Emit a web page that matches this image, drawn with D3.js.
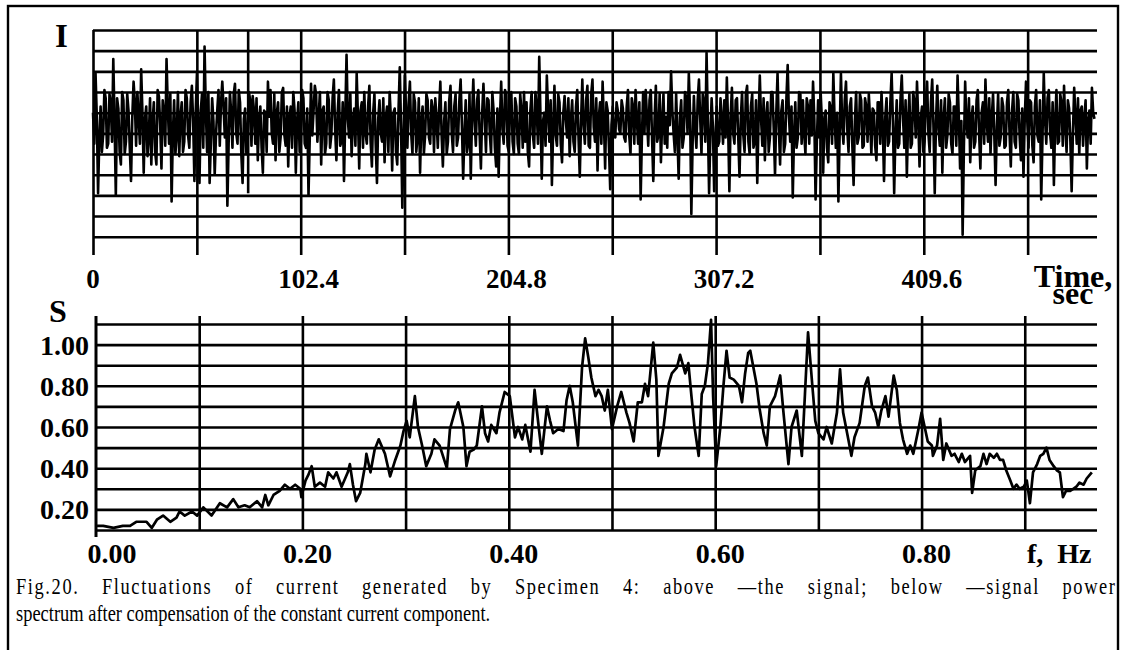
<!DOCTYPE html>
<html>
<head>
<meta charset="utf-8">
<script src="https://cdn.jsdelivr.net/npm/d3@7"></script>
<style>
  html, body { margin: 0; padding: 0; background: #fff; }
  svg { display: block; }
</style>
</head>
<body>
<script>
// ---- current signal: one reading every 0.625 s, in grid divisions (0 = middle line) ----
const signalStep = 0.625;
const signalValues = [
  1.0, -0.5, 2.9, 0.8, -2.9, -0.2, 1.3, -0.9, -0.1, 2.1, 1.7, -0.7, -0.5, 1.9, 1.5, -0.4, 3.6, 0.6, -3.0, 1.7,
  1.2, -0.9, -1.5, 2.0, 1.6, -1.0, -0.4, 1.9, 1.1, -0.7, -2.3, 0.8, 2.5, 1.5, -0.6, 2.0, 0.8, -0.5, 3.1, 1.0,
  -1.9, 0.7, 1.3, -1.1, -0.2, 1.7, -1.5, 0.6, 1.5, -0.9, -1.5, 2.1, 1.8, 0.4, -1.7, 1.6, 1.0, -0.6, 3.6, 1.3,
  -0.5, 1.9, -3.3, 0.0, 1.6, -1.0, -0.1, 2.0, -1.1, 0.8, 1.5, -0.9, -0.4, 2.1, 1.7, -0.1, -0.7, 1.5, 2.3, 0.6,
  -2.3, 1.0, 2.9, 0.4, -2.4, 1.1, 1.9, -0.7, 4.2, 1.1, -0.9, 2.0, -2.4, -0.4, 1.7, 0.6, -2.0, -0.1, 1.1, 2.1,
  -0.6, 1.5, 2.5, 1.3, -0.2, 1.7, -3.5, -0.5, 2.0, 1.0, -0.7, 1.9, 2.4, 0.0, -0.5, 2.1, 1.5, -1.0, -2.4, 0.7,
  1.2, -1.0, -0.4, 2.0, 1.6, -0.6, 1.8, 1.1, -0.5, 1.7, -1.3, 0.7, 1.3, -0.7, -1.9, 1.1, 1.0, -0.9, 2.5, 0.8,
  2.1, 0.0, -0.5, 1.9, -1.3, 1.0, 1.5, -0.9, -0.2, 2.0, 2.2, -0.1, -0.6, 1.3, -1.6, 0.8, 1.3, -0.7, 2.0, 1.1,
  -1.9, 0.6, 1.5, -0.9, -0.4, 2.1, 1.7, -0.5, -0.7, 1.2, -3.0, -0.2, 2.4, -0.1, 1.1, 2.3, 1.9, -0.4, 0.8, 2.0,
  -1.5, 1.1, 1.3, -1.0, -0.5, 2.0, 1.6, -0.7, -0.1, 1.7, 2.6, 0.2, -1.3, 1.0, 2.1, -0.6, -0.4, 1.5, -2.3, 0.8,
  3.8, 0.7, -0.2, 1.9, -1.1, 0.6, 1.2, -0.6, 2.9, 0.8, -1.7, 1.1, 1.5, -0.7, 2.0, 0.0, -0.5, 1.3, 2.3, -0.4,
  -1.6, 1.0, 1.9, -0.5, -2.4, 0.7, 1.6, 0.0, -0.4, 1.7, -1.4, 0.8, 1.3, -0.9, 2.0, 0.7, -1.8, 1.0, 1.2, -0.9,
  -1.5, 1.1, 3.2, 0.3, -3.6, -0.1, 2.8, 1.0, -0.7, 1.5, 2.5, 0.0, -1.0, 1.9, 1.5, -0.9, -0.2, 1.7, -1.9, 0.6,
  1.3, -1.0, -0.1, 1.9, 1.6, -0.2, -0.5, 1.6, 1.2, -0.9, 1.7, 0.7, -0.7, 1.1, 2.5, -0.1, -1.6, 0.6, 1.5, -1.0,
  -0.4, 1.6, 2.3, 0.0, -0.9, 1.3, 1.9, -0.6, -0.2, 1.6, 2.6, 0.4, -2.2, 0.0, 1.6, -0.9, -0.5, 1.9, -2.2, 0.8,
  2.6, 0.6, -0.6, 1.6, 2.1, -0.1, -1.7, 1.0, 2.4, 0.7, -0.9, 1.7, 1.6, 0.0, -1.0, 2.0, 1.1, -0.7, -1.6, 1.2,
  -2.1, 0.7, 2.5, 0.2, -0.5, 2.1, 1.9, -0.6, -0.9, 1.5, 2.0, -0.4, -1.0, 1.7, 1.3, -0.5, -1.0, 1.9, 1.1, -0.7,
  2.0, -0.4, 1.5, -0.9, -1.6, 1.1, 2.0, -0.1, -0.7, 2.0, 1.2, -0.5, 3.7, 0.8, -2.2, 0.6, 1.0, -0.6, 2.8, 1.1,
  -0.4, 1.6, -2.5, 0.2, 2.3, -0.1, -0.6, 1.9, 1.5, -0.5, -1.4, 1.0, 1.8, 0.6, -0.2, 1.7, -1.1, 0.7, 1.6, -0.4,
  -0.9, 1.3, 2.1, -0.2, -2.1, 0.6, 2.6, 0.4, -0.5, 1.6, 2.3, -0.6, -0.7, 1.9, 2.6, 0.3, -0.4, 1.7, -1.8, 0.8,
  1.5, -0.5, 2.5, 0.6, -1.7, 1.5, 1.1, -0.7, -2.7, 0.4, 1.3, -0.1, -0.2, 1.5, 1.1, 0.2, 0.0, 1.6, 1.2, -0.2,
  -0.4, 1.3, 2.1, -0.1, -1.0, 1.7, 1.3, -0.5, 2.1, 0.7, -0.5, 1.5, -3.2, -0.2, 2.0, 0.0, 2.1, 0.8, -0.6, 1.6,
  2.1, -0.2, -2.3, 0.7, 2.3, -0.4, -0.1, 1.9, -1.4, 0.6, 1.9, -0.5, 0.8, -0.7, 2.0, 0.4, 3.0, 1.1, 0.0, -0.9,
  1.9, -0.1, -2.2, 0.8, 1.6, -0.7, -0.2, 2.0, 1.7, 0.0, 2.9, 1.0, -3.9, -0.5, 1.8, 0.2, -0.7, 1.6, 2.6, 0.7,
  -1.0, 1.9, 1.5, -0.4, 3.9, 0.6, -2.9, -0.1, 1.7, 0.3, -2.8, -0.2, 1.3, -0.6, -0.4, 1.7, 0.7, -0.5, 1.6, -0.2,
  2.7, 0.4, -2.8, 0.8, 2.2, 0.0, -0.5, 1.6, 1.7, -0.2, -2.1, 0.7, 2.0, -0.1, -0.9, 1.9, 2.3, -0.4, -1.0, 1.3,
  1.9, -0.7, -0.4, 1.6, -2.4, 0.6, 2.8, 0.7, -0.6, 1.7, -1.3, 0.8, 1.5, -0.9, -0.2, 2.0, 2.0, 0.2, -2.0, 1.0,
  2.9, 0.3, -1.5, 1.1, 1.6, -0.9, -0.5, 1.7, 3.3, 0.8, -0.4, 1.3, -3.1, -0.1, 1.5, -0.7, -0.2, 2.0, 1.9, -0.5,
  1.6, 0.0, -1.0, 1.7, 1.3, -0.5, 1.6, -0.1, 2.5, 0.7, -3.2, -0.4, 1.6, -0.2, 2.0, 0.6, -1.9, 0.8, 1.1, -0.7,
  -1.4, 1.5, 1.2, -0.5, 2.9, 0.7, -0.7, 1.0, -3.3, 0.0, 2.9, 0.4, -0.5, 1.6, 2.5, 0.2, -0.9, 1.3, 1.7, -0.6,
  -2.5, 0.6, 2.0, -0.5, -0.2, 1.9, 1.6, -0.7, -0.6, 1.7, 1.3, -0.4, 1.9, 0.7, -1.0, 1.2, 1.1, -0.6, -1.3, 1.5,
  1.5, -0.5, 2.0, 0.4, -2.3, 0.8, 1.7, -0.6, -0.4, 1.5, 2.9, 0.6, -2.9, 0.0, 1.6, -0.7, -0.5, 1.7, 2.8, 0.7,
  -0.7, 1.6, -2.1, 0.6, 1.9, -0.7, -0.5, 2.0, 1.5, -0.2, 2.5, 0.7, -1.6, 0.8, 1.3, -0.9, -0.4, 1.6, 2.5, 0.0,
  -0.9, 1.5, 2.6, 0.3, -2.9, 0.6, 2.3, 0.2, -0.6, 1.6, -1.9, 0.7, 1.7, -0.7, -0.1, 1.9, 1.5, -0.5, -1.0, 1.3,
  1.3, -0.6, 2.8, 0.8, -1.7, 0.6, -4.9, -0.7, 2.5, 0.4, -0.2, 1.7, -1.4, 0.7, 1.3, -0.7, -0.4, 1.6, 2.1, 0.0,
  -1.7, 1.0, 1.5, -0.5, 2.6, 0.6, -0.4, 1.7, -1.0, 0.8, 1.9, -0.1, -2.5, 0.3, 1.9, -0.6, -0.2, 1.7, 1.3, -0.7,
  -0.6, 1.5, 2.1, 0.0, -1.6, 1.1, 2.0, -0.4, -0.7, 1.9, 1.6, -0.2, -1.3, 1.2, -2.1, 0.7, 2.5, 0.6, -0.7, 1.6,
  1.5, -0.6, -1.4, 1.3, 2.1, -0.1, -0.4, 1.6, -3.2, -0.2, 2.9, 0.7, -0.5, 1.7, 2.1, 0.0, -0.7, 1.5, -2.5, 0.6,
  2.1, -0.5, -0.4, 1.9, 1.5, -0.6, 2.3, 0.4, -0.9, 1.6, 1.2, -0.4, -2.8, 0.0, 2.2, 0.8, -0.5, 1.7, -1.0, 1.1,
  1.3, -0.6, 0.7, 1.6, -1.7, 0.6, 1.1, -0.5, 2.2, 1.0, 0.7
];
const timeGrid = [0, 51.2, 102.4, 153.6, 204.8, 256, 307.2, 358.4, 409.6, 460.8];
const timeLabels = ["0", "102.4", "204.8", "307.2", "409.6"];
const signalGrid = [-5, -4, -3, -2, -1, 0, 1, 2, 3, 4, 5];
const markerTime = 76.5;   // short vertical marker inside the first interval

// ---- power spectrum of the signal ----
const specFreq = [
  0.001, 0.007, 0.017, 0.026, 0.033, 0.039, 0.049, 0.054, 0.059, 0.065,
  0.072, 0.078, 0.081, 0.086, 0.093, 0.098, 0.104, 0.112, 0.120, 0.127,
  0.133, 0.138, 0.144, 0.149, 0.156, 0.161, 0.164, 0.167, 0.172, 0.178,
  0.183, 0.188, 0.193, 0.198, 0.199, 0.203, 0.206, 0.209, 0.212, 0.217,
  0.222, 0.225, 0.230, 0.233, 0.238, 0.244, 0.246, 0.249, 0.252, 0.256,
  0.261, 0.262, 0.266, 0.270, 0.274, 0.280, 0.285, 0.290, 0.295, 0.298,
  0.301, 0.304, 0.309, 0.312, 0.316, 0.320, 0.325, 0.328, 0.333, 0.340,
  0.343, 0.348, 0.351, 0.356, 0.359, 0.362, 0.366, 0.369, 0.374, 0.377,
  0.380, 0.383, 0.388, 0.391, 0.396, 0.401, 0.406, 0.409, 0.413, 0.416,
  0.421, 0.425, 0.429, 0.432, 0.437, 0.440, 0.443, 0.448, 0.453, 0.456,
  0.459, 0.462, 0.467, 0.471, 0.474, 0.477, 0.480, 0.484, 0.487, 0.490,
  0.493, 0.496, 0.500, 0.505, 0.509, 0.514, 0.517, 0.521, 0.525, 0.529,
  0.532, 0.535, 0.540, 0.543, 0.545, 0.550, 0.555, 0.558, 0.563, 0.566,
  0.571, 0.574, 0.577, 0.580, 0.584, 0.587, 0.590, 0.593, 0.596, 0.598,
  0.601, 0.605, 0.608, 0.611, 0.614, 0.618, 0.623, 0.626, 0.629, 0.632,
  0.634, 0.637, 0.640, 0.643, 0.647, 0.650, 0.653, 0.658, 0.663, 0.666,
  0.671, 0.674, 0.679, 0.684, 0.687, 0.690, 0.694, 0.697, 0.700, 0.705,
  0.708, 0.713, 0.718, 0.721, 0.724, 0.729, 0.732, 0.735, 0.740, 0.745,
  0.748, 0.752, 0.755, 0.758, 0.761, 0.765, 0.768, 0.773, 0.776, 0.779,
  0.782, 0.786, 0.789, 0.792, 0.797, 0.800, 0.803, 0.806, 0.810, 0.811,
  0.815, 0.818, 0.821, 0.824, 0.829, 0.832, 0.836, 0.839, 0.842, 0.847,
  0.849, 0.852, 0.857, 0.860, 0.863, 0.866, 0.870, 0.873, 0.876, 0.879,
  0.882, 0.886, 0.889, 0.892, 0.895, 0.899, 0.902, 0.905, 0.908, 0.912,
  0.915, 0.918, 0.921, 0.924, 0.928, 0.931, 0.934, 0.937, 0.940, 0.944,
  0.947, 0.950, 0.953, 0.957, 0.960, 0.965
];
const specPower = [
  0.12, 0.12, 0.11, 0.12, 0.12, 0.14, 0.14, 0.11, 0.15, 0.17,
  0.14, 0.16, 0.19, 0.17, 0.19, 0.17, 0.21, 0.17, 0.23, 0.21,
  0.25, 0.21, 0.22, 0.21, 0.24, 0.21, 0.27, 0.22, 0.27, 0.29,
  0.32, 0.30, 0.32, 0.30, 0.26, 0.34, 0.37, 0.41, 0.31, 0.33,
  0.31, 0.38, 0.35, 0.38, 0.31, 0.38, 0.42, 0.32, 0.24, 0.28,
  0.42, 0.47, 0.38, 0.49, 0.54, 0.47, 0.36, 0.44, 0.51, 0.58,
  0.63, 0.55, 0.75, 0.60, 0.51, 0.41, 0.47, 0.54, 0.51, 0.40,
  0.59, 0.68, 0.72, 0.60, 0.41, 0.48, 0.49, 0.51, 0.70, 0.57,
  0.53, 0.61, 0.57, 0.67, 0.77, 0.75, 0.55, 0.60, 0.54, 0.61,
  0.48, 0.78, 0.60, 0.47, 0.70, 0.63, 0.57, 0.59, 0.58, 0.73,
  0.80, 0.72, 0.51, 0.89, 1.03, 0.94, 0.84, 0.75, 0.78, 0.75,
  0.68, 0.78, 0.59, 0.70, 0.77, 0.67, 0.62, 0.53, 0.72, 0.72,
  0.81, 0.75, 1.01, 0.83, 0.46, 0.60, 0.81, 0.86, 0.89, 0.95,
  0.86, 0.91, 0.75, 0.60, 0.46, 0.76, 0.80, 0.91, 1.12, 0.75,
  0.41, 0.60, 0.80, 0.97, 0.84, 0.83, 0.80, 0.72, 0.86, 0.96,
  0.97, 0.89, 0.81, 0.69, 0.57, 0.51, 0.70, 0.75, 0.85, 0.68,
  0.42, 0.60, 0.68, 0.46, 0.76, 1.06, 0.81, 0.63, 0.57, 0.54,
  0.60, 0.52, 0.67, 0.88, 0.67, 0.54, 0.46, 0.55, 0.62, 0.80,
  0.84, 0.70, 0.67, 0.60, 0.68, 0.75, 0.65, 0.85, 0.78, 0.62,
  0.54, 0.47, 0.51, 0.47, 0.59, 0.67, 0.60, 0.53, 0.51, 0.46,
  0.51, 0.64, 0.44, 0.52, 0.46, 0.47, 0.43, 0.47, 0.43, 0.46,
  0.28, 0.39, 0.41, 0.47, 0.42, 0.47, 0.45, 0.47, 0.44, 0.44,
  0.39, 0.34, 0.30, 0.32, 0.30, 0.31, 0.34, 0.23, 0.38, 0.42,
  0.46, 0.47, 0.50, 0.44, 0.41, 0.39, 0.38, 0.26, 0.29, 0.29,
  0.30, 0.31, 0.33, 0.32, 0.35, 0.38
];
const freqGrid = [0.1, 0.2, 0.3, 0.4, 0.5, 0.6, 0.7, 0.8, 0.9];
const freqLabels = ["0.00", "0.20", "0.40", "0.60", "0.80"];
const powerGrid = [0.1, 0.2, 0.3, 0.4, 0.5, 0.6, 0.7, 0.8, 0.9, 1.0, 1.1];
const powerLabels = ["0.20", "0.40", "0.60", "0.80", "1.00"];

const captionLines = [
  "Fig.20. Fluctuations of current generated by Specimen 4: above \u2014the signal; below \u2014signal power",
  "spectrum after compensation of the constant current component."
];

// ---- drawing ----
const W = 1127, H = 650;
const svg = d3.select("body").append("svg").attr("width", W).attr("height", H);
const serif = "'Liberation Serif', 'Times New Roman', serif";
const GRID_W = 2.6;

// outer frame (its lower edge runs past the bottom of the page)
svg.append("rect").attr("x", 8).attr("y", 6).attr("width", 1110).attr("height", 660)
  .attr("fill", "none").attr("stroke", "#000").attr("stroke-width", 2.4);

function styleGrid(g) {
  g.select(".domain").remove();
  g.selectAll(".tick text").remove();
  g.selectAll(".tick line").attr("stroke", "#000").attr("stroke-width", GRID_W);
}

// ===== upper panel: signal =====
const tLeft = 93, tRight = 1097, tTop = 30, tBottom = 236.7, tTickEnd = 255;
const xT = d3.scaleLinear().domain([0, 495]).range([tLeft, tRight]);
const yI = d3.scaleLinear().domain([-5, 5]).range([tBottom, tTop]);

svg.append("g").attr("transform", `translate(0,${tTickEnd})`)
  .call(d3.axisBottom(xT).tickValues(timeGrid).tickSize(-(tTickEnd - tTop)))
  .call(styleGrid);
svg.append("g").attr("transform", `translate(${tLeft},0)`)
  .call(d3.axisLeft(yI).tickValues(signalGrid).tickSize(-(tRight - tLeft)))
  .call(styleGrid);
svg.append("line")
  .attr("x1", xT(markerTime)).attr("x2", xT(markerTime))
  .attr("y1", yI(5)).attr("y2", yI(-2.9))
  .attr("stroke", "#000").attr("stroke-width", GRID_W);

const signalLine = d3.line()
  .x((d, i) => xT(i * signalStep))
  .y(d => yI(d));
svg.append("path").datum(signalValues)
  .attr("d", signalLine)
  .attr("fill", "none").attr("stroke", "#000")
  .attr("stroke-width", 2.6).attr("stroke-linejoin", "round");

svg.append("text").attr("x", 55).attr("y", 47).text("I")
  .attr("font-family", serif).attr("font-weight", "bold").attr("font-size", 33);

svg.selectAll(".tlab").data(timeLabels).enter().append("text")
  .attr("x", d => xT(+d) + (+d === 0 ? 0 : 8))
  .attr("y", 288)
  .attr("text-anchor", "middle")
  .attr("font-family", serif).attr("font-weight", "bold").attr("font-size", 27)
  .text(d => d);
const timeTitle = svg.append("text").attr("text-anchor", "middle")
  .attr("font-family", serif).attr("font-weight", "bold").attr("font-size", 32);
timeTitle.append("tspan").attr("x", 1073).attr("y", 287).text("Time,");
timeTitle.append("tspan").attr("x", 1073).attr("y", 304).text("sec");

// ===== lower panel: spectrum =====
const fLeft = 96, fRight = 1097, fTop = 316, fBottom = 530;
const xF = d3.scaleLinear().domain([0, 0.97]).range([fLeft, fRight]);
const yS = d3.scaleLinear().domain([0.1, 1.1]).range([fBottom, 324]);

svg.append("g").attr("transform", `translate(0,${fBottom})`)
  .call(d3.axisBottom(xF).tickValues(freqGrid).tickSize(-(fBottom - fTop)))
  .call(styleGrid);
svg.append("g").attr("transform", `translate(${fLeft},0)`)
  .call(d3.axisLeft(yS).tickValues(powerGrid).tickSize(-(fRight - fLeft)))
  .call(styleGrid);
svg.append("line").attr("x1", fLeft).attr("x2", fLeft).attr("y1", fTop).attr("y2", 537)
  .attr("stroke", "#000").attr("stroke-width", 3);

const specLine = d3.line()
  .x((d, i) => xF(specFreq[i]))
  .y(d => yS(d));
svg.append("path").datum(specPower)
  .attr("d", specLine)
  .attr("fill", "none").attr("stroke", "#000")
  .attr("stroke-width", 2.7).attr("stroke-linejoin", "round");

svg.append("text").attr("x", 49).attr("y", 322).text("S")
  .attr("font-family", serif).attr("font-weight", "bold").attr("font-size", 32);

svg.selectAll(".plab").data(powerLabels).enter().append("text")
  .attr("x", 89).attr("y", d => yS(+d) + 10)
  .attr("text-anchor", "end")
  .attr("font-family", serif).attr("font-weight", "bold").attr("font-size", 28)
  .text(d => d);

svg.selectAll(".flab").data(freqLabels).enter().append("text")
  .attr("x", d => xF(+d) + (+d === 0 ? 16 : 5))
  .attr("y", 563)
  .attr("text-anchor", "middle")
  .attr("font-family", serif).attr("font-weight", "bold").attr("font-size", 28)
  .text(d => d);
svg.append("text").attr("x", 1027).attr("y", 563)
  .attr("font-family", serif).attr("font-weight", "bold").attr("font-size", 28)
  .style("white-space", "pre")
  .text("f,  Hz");

// ===== caption: condensed serif, first line justified =====
const capScale = 0.82, capLeft = 16, capRight = 1115;
svg.append("text")
  .attr("transform", `translate(${capLeft},594) scale(${capScale},1)`)
  .attr("font-family", serif).attr("font-size", 22.5)
  .style("word-spacing", "20px")
  .attr("textLength", (capRight - capLeft) / capScale)
  .attr("lengthAdjust", "spacing")
  .text(captionLines[0]);
svg.append("text")
  .attr("transform", `translate(${capLeft},621) scale(${capScale},1)`)
  .attr("font-family", serif).attr("font-size", 22.5)
  .text(captionLines[1]);
</script>
</body>
</html>
